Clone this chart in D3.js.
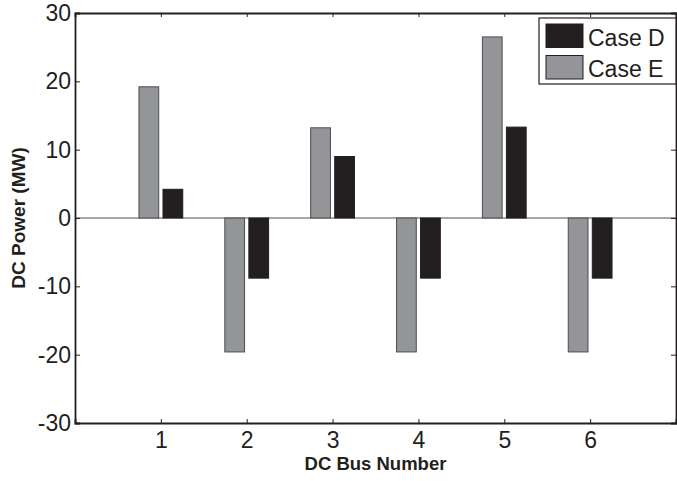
<!DOCTYPE html>
<html>
<head>
<meta charset="utf-8">
<script src="https://cdn.jsdelivr.net/npm/d3@7"></script>
<style>
  body { margin: 0; background: #fff; }
  svg text { font-family: "Liberation Sans", Arial, sans-serif; fill: #231f20; }
</style>
</head>
<body>
<svg class="chart"></svg>
<script>
const buses = [1, 2, 3, 4, 5, 6];
const caseE = [19.2, -19.6, 13.2, -19.6, 26.5, -19.6];
const caseD = [4.2, -8.8, 9.0, -8.8, 13.3, -8.8];
const yTicks = [-30, -20, -10, 0, 10, 20, 30];
const legendLabels = ["Case D", "Case E"];

const WIDTH = 677, HEIGHT = 481;
const margins = { top: 13, right: 1, bottom: 58, left: 75 };
const innerW = WIDTH - margins.left - margins.right;
const innerH = HEIGHT - margins.top - margins.bottom;

const DARK = "#231f20", GRAY = "#939598";

var x = d3.scaleLinear().domain([0, 7]).range([0, innerW]);
var y = d3.scaleLinear().domain([-30, 30]).range([innerH, 0]);

const BAR_W = 0.23, OFFSET = 0.14;

var svg = d3.select('.chart')
    .attr('width', WIDTH)
    .attr('height', HEIGHT);

var g = svg.append('g')
    .attr('transform', 'translate(' + margins.left + ',' + margins.top + ')');

// zero line
g.append('line')
    .attr('x1', 0).attr('x2', innerW)
    .attr('y1', y(0)).attr('y2', y(0))
    .attr('stroke', '#8a8a8a').attr('stroke-width', 1.5);

// bars: gray (Case E) left, black (Case D) right
const series = [
    { vals: caseE, fill: GRAY, stroke: "#4d4d4f", dx: -OFFSET },
    { vals: caseD, fill: DARK, stroke: DARK, dx: OFFSET }
];
series.forEach(s => {
    g.selectAll(null)
        .data(buses)
        .enter()
        .append('rect')
        .attr('x', (d, i) => x(d + s.dx - BAR_W / 2))
        .attr('width', x(BAR_W) - x(0))
        .attr('y', (d, i) => y(Math.max(0, s.vals[i])))
        .attr('height', (d, i) => Math.abs(y(s.vals[i]) - y(0)))
        .attr('fill', s.fill)
        .attr('stroke', s.stroke)
        .attr('stroke-width', 1);
});

// axes
const fmt = d => String(d);
var xBottom = d3.axisBottom(x).tickValues(buses).tickSize(-4).tickPadding(9).tickFormat(fmt);
var xTop = d3.axisTop(x).tickValues(buses).tickSize(-4).tickFormat('');
var yLeft = d3.axisLeft(y).tickValues(yTicks).tickSize(-5).tickPadding(4).tickFormat(fmt);
var yRight = d3.axisRight(y).tickValues(yTicks).tickSize(-5).tickFormat('');

function styleAxis(sel) {
    sel.select('.domain').attr('stroke', DARK).attr('stroke-width', 1.8);
    sel.selectAll('.tick line').attr('stroke', DARK).attr('stroke-width', 1);
    sel.selectAll('.tick text').attr('font-size', 23).attr('fill', DARK)
        .attr('font-family', '"Liberation Sans", Arial, sans-serif');
}

g.append('g').attr('transform', 'translate(0,' + innerH + ')').call(xBottom).call(styleAxis);
g.append('g').call(xTop).call(styleAxis);
g.append('g').call(yLeft).call(styleAxis);
g.append('g').attr('transform', 'translate(' + innerW + ',0)').call(yRight).call(styleAxis);

// axis labels
svg.append('text')
    .attr('x', margins.left + x(3.5))
    .attr('y', 470)
    .attr('text-anchor', 'middle')
    .attr('font-size', 18.5)
    .attr('font-weight', 'bold')
    .text('DC Bus Number');

svg.append('text')
    .attr('transform', 'translate(25,' + (margins.top + y(0)) + ') rotate(-90)')
    .attr('text-anchor', 'middle')
    .attr('font-size', 19)
    .attr('font-weight', 'bold')
    .text('DC Power (MW)');

// legend
var legend = svg.append('g').attr('transform', 'translate(539,18)');
legend.append('rect')
    .attr('width', 137).attr('height', 66)
    .attr('fill', '#fff').attr('stroke', DARK).attr('stroke-width', 1.2);
const legendFills = [DARK, GRAY];
legend.selectAll('.sw')
    .data(legendLabels)
    .enter()
    .append('rect')
    .attr('x', 7)
    .attr('y', (d, i) => 6 + i * 31.5)
    .attr('width', 37).attr('height', 23.5)
    .attr('fill', (d, i) => legendFills[i])
    .attr('stroke', DARK).attr('stroke-width', 1);
legend.selectAll('.lt')
    .data(legendLabels)
    .enter()
    .append('text')
    .attr('x', 49)
    .attr('y', (d, i) => 27.7 + i * 31)
    .attr('font-size', 23)
    .text(d => d);
</script>
</body>
</html>
